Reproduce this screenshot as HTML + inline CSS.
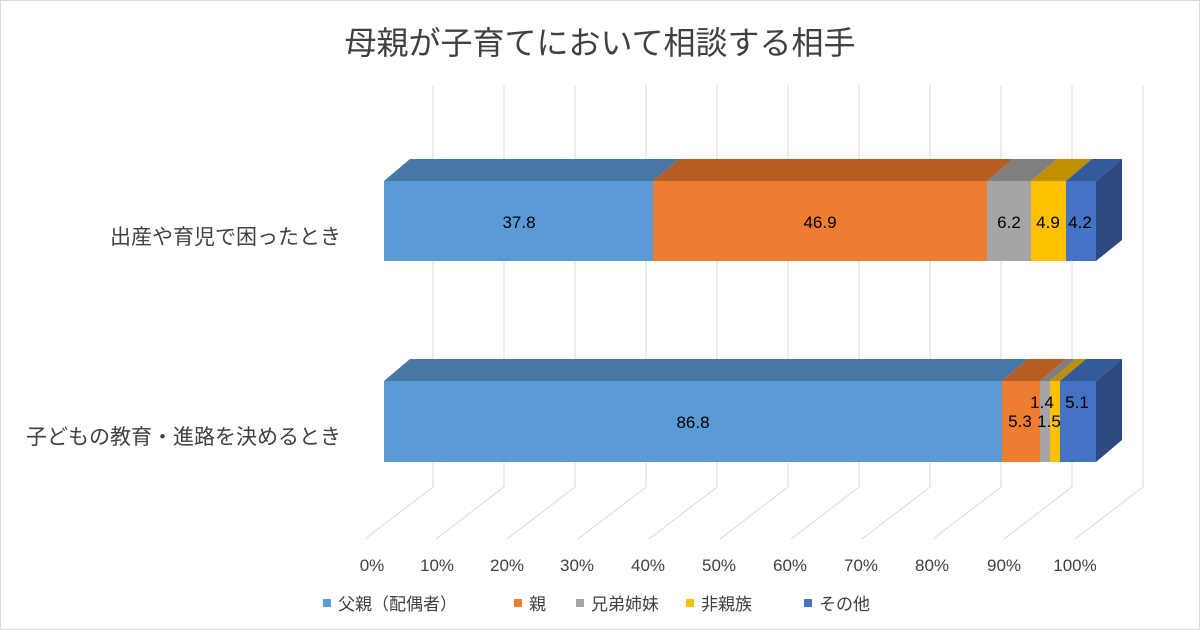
<!DOCTYPE html>
<html><head><meta charset="utf-8"><style>
body{margin:0;background:#fff}
svg{display:block}
text{font-family:"Liberation Sans","Noto Sans CJK JP",sans-serif;fill:#404040}
</style></head><body>
<svg width="1200" height="630" viewBox="0 0 1200 630" xmlns="http://www.w3.org/2000/svg">
<rect x="0.5" y="0.5" width="1199" height="629" fill="#fff" stroke="#d9d9d9"/>
<text x="600" y="54" font-size="32" text-anchor="middle" fill="#404040">母親が子育てにおいて相談する相手</text>
<g stroke="#d9d9d9" stroke-width="1" fill="none">
<path d="M433 85V487L365 539M504 85V487L436 539M575 85V487L507 539M646 85V487L578 539M717 85V487L649 539M788 85V487L720 539M859 85V487L791 539M930 85V487L862 539M1001 85V487L933 539M1072 85V487L1004 539M1143 85V487L1075 539"/>
</g>
<g>
<polygon points="384,181 653,181 679,159 410,159" fill="#4677a5"/>
<polygon points="653,181 987,181 1013,159 679,159" fill="#b55d22"/>
<polygon points="987,181 1031,181 1057,159 1013,159" fill="#7f7f7f"/>
<polygon points="1031,181 1066,181 1092,159 1057,159" fill="#c09000"/>
<polygon points="1066,181 1096,181 1122,159 1092,159" fill="#335a9a"/>
<polygon points="1096,181 1122,159 1122,240 1096,261" fill="#2c4a80"/>
<rect x="384" y="181" width="269" height="80" fill="#5b9bd5"/>
<rect x="653" y="181" width="334" height="80" fill="#ed7d31"/>
<rect x="987" y="181" width="44" height="80" fill="#a5a5a5"/>
<rect x="1031" y="181" width="35" height="80" fill="#ffc000"/>
<rect x="1066" y="181" width="30" height="80" fill="#4472c4"/>
</g>
<g font-size="17" text-anchor="middle">
<text x="519" y="228" style="fill:#000">37.8</text>
<text x="820" y="228" style="fill:#000">46.9</text>
<text x="1009" y="228" style="fill:#000">6.2</text>
<text x="1048" y="228" style="fill:#000">4.9</text>
<text x="1080" y="228" style="fill:#000">4.2</text>
</g>
<g>
<polygon points="384,381 1002,381 1028,359 410,359" fill="#4677a5"/>
<polygon points="1002,381 1040,381 1066,359 1028,359" fill="#b55d22"/>
<polygon points="1040,381 1050,381 1076,359 1066,359" fill="#7f7f7f"/>
<polygon points="1050,381 1060,381 1086,359 1076,359" fill="#c09000"/>
<polygon points="1060,381 1096,381 1122,359 1086,359" fill="#335a9a"/>
<polygon points="1096,381 1122,359 1122,440 1096,462" fill="#2c4a80"/>
<rect x="384" y="381" width="618" height="81" fill="#5b9bd5"/>
<rect x="1002" y="381" width="38" height="81" fill="#ed7d31"/>
<rect x="1040" y="381" width="10" height="81" fill="#a5a5a5"/>
<rect x="1050" y="381" width="10" height="81" fill="#ffc000"/>
<rect x="1060" y="381" width="36" height="81" fill="#4472c4"/>
</g>
<g font-size="17" text-anchor="middle">
<text x="693" y="428" style="fill:#000">86.8</text>
<text x="1042" y="408" style="fill:#000">1.4</text>
<text x="1077" y="408" style="fill:#000">5.1</text>
<text x="1020" y="427" style="fill:#000">5.3</text>
<text x="1049" y="427" style="fill:#000">1.5</text>
</g>
<g font-size="21" text-anchor="end">
<text x="341" y="244">出産や育児で困ったとき</text>
<text x="341" y="444">子どもの教育・進路を決めるとき</text>
</g>
<g font-size="17" text-anchor="middle">
<text x="372" y="571">0%</text><text x="437" y="571">10%</text><text x="507" y="571">20%</text>
<text x="577" y="571">30%</text><text x="648" y="571">40%</text><text x="719" y="571">50%</text>
<text x="790" y="571">60%</text><text x="861" y="571">70%</text><text x="932" y="571">80%</text>
<text x="1004" y="571">90%</text><text x="1075" y="571">100%</text>
</g>
<g font-size="17">
<rect x="323" y="599" width="8" height="8" fill="#5b9bd5"/><text x="338" y="610">父親（配偶者）</text>
<rect x="514" y="599" width="8" height="8" fill="#ed7d31"/><text x="529" y="610">親</text>
<rect x="576" y="599" width="8" height="8" fill="#a5a5a5"/><text x="591" y="610">兄弟姉妹</text>
<rect x="686" y="599" width="8" height="8" fill="#ffc000"/><text x="701" y="610">非親族</text>
<rect x="804" y="599" width="8" height="8" fill="#4472c4"/><text x="819" y="610">その他</text>
</g>
</svg>
</body></html>
